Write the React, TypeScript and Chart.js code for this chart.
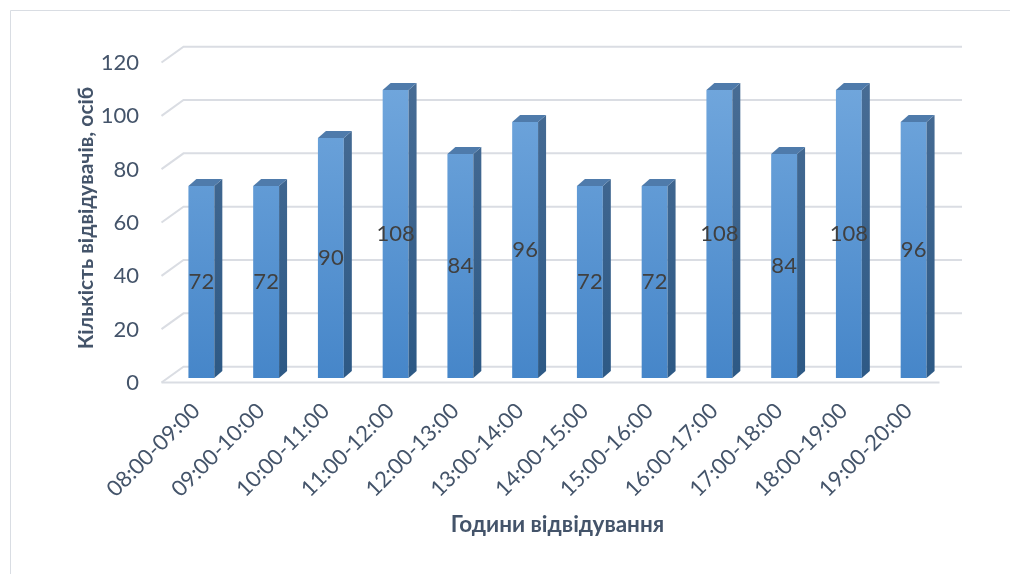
import { useEffect, useRef } from 'react';
import { Chart, registerables } from 'chart.js';

Chart.register(...registerables);

// ---- data ----
const categories = [
  '08:00-09:00', '09:00-10:00', '10:00-11:00', '11:00-12:00',
  '12:00-13:00', '13:00-14:00', '14:00-15:00', '15:00-16:00',
  '16:00-17:00', '17:00-18:00', '18:00-19:00', '19:00-20:00',
];
const visitors = [72, 72, 90, 108, 84, 96, 72, 72, 108, 84, 108, 96];
const yMin = 0;
const yMax = 120;
const yStep = 20;
const yTitle = 'Кількість відвідувачів, осіб';
const xTitle = 'Години відвідування';

// ---- styles ----
const FONT = 'Lato, "Noto Sans", sans-serif';
const TEXT = '#44546a';
const GRID = '#dadde3';
const DEPTH_X = 8;
const DEPTH_Y = 7;

const threeD = {
  id: 'threeD',
  beforeDraw(chart: any) {
    const { ctx } = chart;
    ctx.save();
    ctx.fillStyle = '#ffffff';
    ctx.fillRect(0, 0, chart.width, chart.height);
    ctx.strokeStyle = '#d9dde3';
    ctx.lineWidth = 1;
    ctx.beginPath();
    ctx.moveTo(10.5, chart.height + 5);
    ctx.lineTo(10.5, 10.5);
    ctx.lineTo(chart.width + 5, 10.5);
    ctx.stroke();
    ctx.restore();
  },
  beforeDatasetsDraw(chart: any) {
    const { ctx, chartArea: ca } = chart;
    const ys = chart.scales.y;
    ctx.save();
    ctx.strokeStyle = GRID;
    ctx.lineWidth = 2;
    const ticks = ys.ticks.map((t: any) => t.value);
    for (const v of ticks) {
      const py = ys.getPixelForValue(v);
      const fx = ca.left - 7.5;
      const fy = py + 4.5;
      const bx = ca.left + 14.5;
      const by = py - 11.3;
      ctx.beginPath();
      ctx.moveTo(fx, fy);
      ctx.lineTo(bx, by);
      ctx.lineTo(ca.right + 16, by);
      ctx.stroke();
      if (v === yMin) {
        ctx.beginPath();
        ctx.moveTo(fx, fy);
        ctx.lineTo(ca.right - 6.5, fy);
        ctx.stroke();
      }
    }
    ctx.restore();
  },
  afterDatasetsDraw(chart: any) {
    const { ctx, chartArea: ca } = chart;
    const meta = chart.getDatasetMeta(0);
    ctx.save();
    meta.data.forEach((bar: any, i: number) => {
      const { x, y, base, width } = bar.getProps(['x', 'y', 'base', 'width'], true);
      const l = x - width / 2;
      const r = x + width / 2;
      // side face
      const sg = ctx.createLinearGradient(0, ca.top, 0, ca.bottom);
      sg.addColorStop(0, '#4a6e96');
      sg.addColorStop(1, '#2d5985');
      ctx.fillStyle = sg;
      ctx.beginPath();
      ctx.moveTo(r, y);
      ctx.lineTo(r + DEPTH_X, y - DEPTH_Y);
      ctx.lineTo(r + DEPTH_X, base - DEPTH_Y);
      ctx.lineTo(r, base);
      ctx.closePath();
      ctx.fill();
      // top face
      ctx.fillStyle = '#4f7bab';
      ctx.beginPath();
      ctx.moveTo(l, y);
      ctx.lineTo(l + DEPTH_X, y - DEPTH_Y);
      ctx.lineTo(r + DEPTH_X, y - DEPTH_Y);
      ctx.lineTo(r, y);
      ctx.closePath();
      ctx.fill();
      // value label
      ctx.fillStyle = '#404040';
      ctx.font = `22px ${FONT}`;
      ctx.textAlign = 'center';
      ctx.textBaseline = 'middle';
      ctx.fillText(String(visitors[i]), x, (y + base) / 2);
    });
    ctx.restore();
  },
};

export default function App() {
  const ref = useRef<HTMLCanvasElement | null>(null);

  useEffect(() => {
    if (!ref.current) return;
    const chart = new Chart(ref.current, {
      type: 'bar',
      data: {
        labels: categories,
        datasets: [
          {
            data: visitors,
            borderWidth: 0,
            barPercentage: 0.4,
            categoryPercentage: 1,
            backgroundColor: (c: any) => {
              const ca = c.chart.chartArea;
              if (!ca) return '#5b9bd5';
              const g = c.chart.ctx.createLinearGradient(0, ca.top, 0, ca.bottom);
              g.addColorStop(0, '#74a9de');
              g.addColorStop(1, '#4686c9');
              return g;
            },
          },
        ],
      },
      options: {
        animation: false,
        responsive: true,
        maintainAspectRatio: false,
        layout: { padding: { top: 58, right: 64, left: 0, bottom: 0 } },
        plugins: { legend: { display: false }, tooltip: { enabled: false } },
        scales: {
          x: {
            grid: { display: false, drawTicks: false },
            border: { display: false },
            ticks: {
              autoSkip: false,
              maxRotation: 45,
              minRotation: 45,
              padding: 20,
              labelOffset: -5,
              color: TEXT,
              font: { family: FONT, size: 22 },
            },
            title: {
              display: true,
              text: xTitle,
              color: TEXT,
              font: { family: FONT, size: 22.5, weight: 'bold' },
              padding: { top: 0, bottom: 36 },
            },
            afterFit: (s: any) => {
              s.height = 196;
            },
          },
          y: {
            min: yMin,
            max: yMax,
            grid: { display: false, drawTicks: false },
            border: { display: false },
            ticks: {
              stepSize: yStep,
              padding: 30,
              labelOffset: 5,
              color: TEXT,
              font: { family: FONT, size: 22 },
            },
            title: {
              display: true,
              text: yTitle,
              color: TEXT,
              font: { family: FONT, size: 21, weight: 'bold' },
              padding: { top: 74, bottom: 0 },
            },
            afterFit: (s: any) => {
              s.width = 169;
            },
          },
        },
      },
      plugins: [threeD],
    });
    return () => chart.destroy();
  }, []);

  return (
    <div style={{ position: 'fixed', left: 0, top: 0, width: 1010, height: 574, background: '#fff' }}>
      <canvas ref={ref} />
    </div>
  );
}
